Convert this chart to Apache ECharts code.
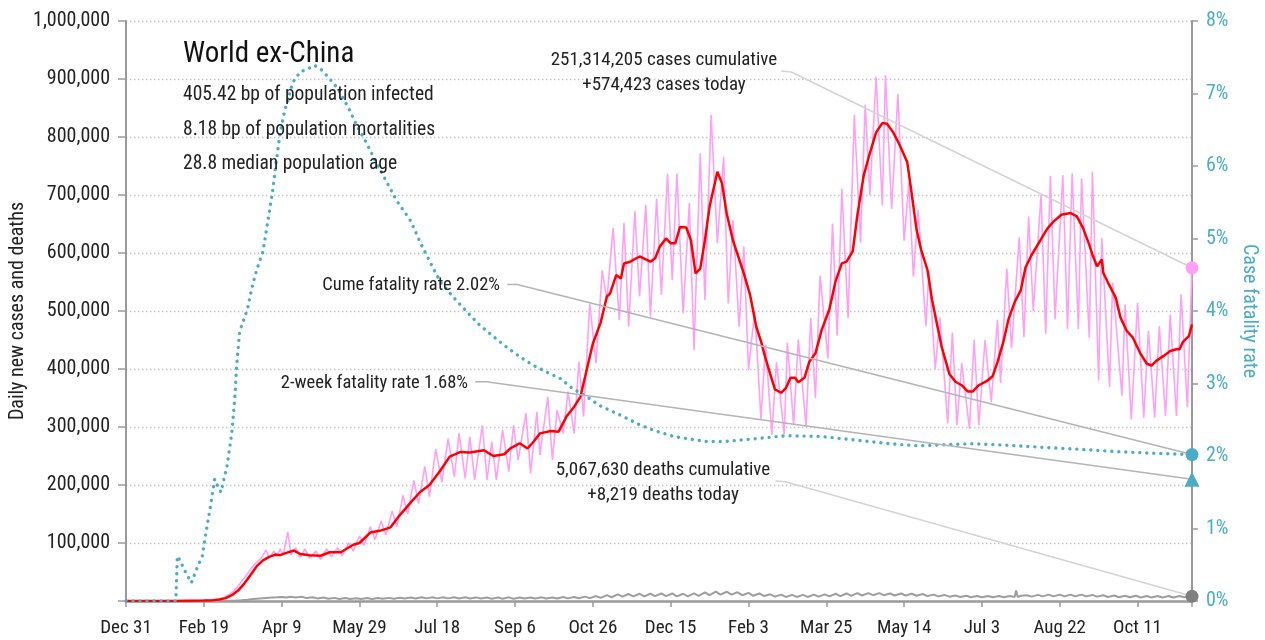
<!DOCTYPE html>
<html>
<head>
<meta charset="utf-8">
<title>World ex-China</title>
<script src="https://cdn.jsdelivr.net/npm/echarts@6/dist/echarts.min.js"></script>
<style>
  html, body { margin: 0; padding: 0; background: #fff; }
  #main { width: 1265px; height: 640px; }
</style>
</head>
<body>
<div id="main"></div>
<script>
// x values are days counted from Dec 31, 2019
var months = ['Jan', 'Feb', 'Mar', 'Apr', 'May', 'Jun', 'Jul', 'Aug', 'Sep', 'Oct', 'Nov', 'Dec'];
var lastDay = 685;
var tickDays = 50;

// daily new cases, thousands (weekly highs and lows)
var dailyCases = [
  [0,0],[20,0.1],[40,0.4],[50,1],[56,2],[60,3],[63,6],[66,11],[69,17],[72,26],[75,36],[78,47],[81,58],[84,67],[87,74],
  [90,88],[92,74],[95,86],[97,76],[99,90],[101,80],[104,119],[106,80],[109,92],[112,75],[115,90],[118,74],[122,86],[125,72],
  [129,90],[132,76],[136,92],[139,78],[143,100],[146,86],[150,112],[153,96],[157,128],[160,106],[164,138],[167,114],[171,155],
  [174,128],[178,182],[181,150],[185,208],[188,168],[192,232],[195,180],[199,262],[203,205],[207,280],[211,214],[214,289],
  [218,211],[221,283],[224,209],[229,303],[232,209],[235,275],[238,209],[242,295],[246,223],[249,303],[252,243],[257,324],
  [260,220],[264,326],[266,252],[271,352],[274,243],[277,329],[281,289],[284,361],[288,289],[291,413],[294,318],[298,513],
  [302,410],[306,570],[309,519],[313,643],[317,484],[320,652],[323,473],[327,672],[330,525],[334,683],[337,490],[341,694],
  [344,528],[348,737],[351,553],[354,737],[358,496],[362,686],[365,433],[369,772],[372,519],[376,838],[380,617],[384,766],
  [387,513],[390,657],[394,473],[397,611],[400,398],[404,500],[408,314],[411,442],[415,287],[418,412],[423,287],[425,445],
  [429,304],[432,451],[437,301],[440,488],[443,350],[446,561],[451,418],[454,651],[457,458],[460,711],[464,488],[468,838],
  [472,618],[475,856],[478,700],[482,904],[486,682],[488,907],[492,676],[496,874],[500,621],[503,720],[506,559],[509,674],
  [514,474],[516,570],[520,400],[523,489],[528,306],[531,463],[534,303],[537,410],[542,297],[545,451],[548,303],[552,450],
  [556,343],[560,485],[562,376],[566,573],[569,436],[574,627],[577,455],[580,663],[583,500],[588,700],[591,461],[594,733],
  [597,486],[602,734],[605,469],[608,737],[612,469],[614,729],[619,454],[621,740],[625,380],[627,626],[632,369],[634,549],
  [640,354],[642,511],[646,313],[650,514],[654,316],[657,466],[661,316],[664,474],[668,319],[671,494],[675,319],[678,529],
  [682,334],[685,574.423]
];

// 7-day average of new cases, thousands
var avgCases = [
  [0,0],[30,0.1],[50,0.8],[56,1.5],[60,2.5],[64,5],[68,10],[72,18],[76,30],[80,45],[84,60],[88,70],[92,76],[96,80],
  [99,79],[103,83],[108,87],[112,81],[118,79],[125,78],[131,84],[138,84],[146,97],[150,100],[157,118],[163,121],[170,127],
  [175,145],[183,170],[189,188],[195,200],[202,225],[208,249],[215,257],[221,256],[230,260],[236,250],[243,253],[247,263],
  [253,272],[258,263],[262,275],[266,289],[273,293],[278,292],[283,318],[288,335],[292,352],[296,398],[300,444],[305,480],
  [309,525],[311,530],[315,562],[318,556],[320,582],[324,585],[330,594],[337,585],[340,591],[343,611],[347,625],[350,617],
  [353,617],[356,645],[360,644],[363,622],[366,565],[369,573],[372,622],[375,680],[380,740],[383,720],[386,668],[390,622],
  [397,565],[401,528],[405,473],[408,448],[411,418],[414,391],[417,365],[421,359],[424,367],[427,385],[430,385],[432,377],
  [436,385],[439,412],[443,427],[447,467],[452,503],[456,552],[460,582],[463,585],[467,603],[470,666],[474,733],[477,763],
  [482,808],[486,824],[489,823],[493,808],[497,787],[502,757],[505,700],[508,640],[511,605],[515,571],[518,519],[521,479],
  [524,440],[529,392],[533,378],[537,372],[541,361],[544,361],[548,372],[553,379],[557,388],[560,412],[564,449],[567,485],
  [571,515],[575,536],[578,575],[582,597],[588,624],[592,642],[596,654],[601,666],[607,669],[611,663],[615,643],[619,614],
  [621,597],[624,577],[627,589],[628,566],[631,549],[636,523],[639,489],[643,466],[647,454],[652,426],[656,409],[659,406],
  [662,414],[667,423],[671,431],[675,434],[677,434],[679,446],[683,457],[685,477]
];

// daily new deaths, thousands
var dailyDeaths = [
  [0,0],[50,0.05],[60,0.1],[66,0.3],[70,0.6],[74,1.2],[78,2.2],[82,3.3],[86,4.3],[90,5.3],[94,6.0],[97,6.3],[100,6.8],
  [103,6.0],[106,7.5],[109,6.0],[113,7.2],[116,5.0],[120,6.5],[123,4.5],[127,6.0],[130,4.0],[134,5.4],[137,3.6],[141,5.0],
  [144,3.5],[148,4.9],[151,3.4],[155,5.0],[158,3.6],[162,5.2],[165,3.8],[169,5.4],[172,4.0],[176,5.6],[179,4.2],[183,6.2],
  [186,4.3],[190,6.3],[193,4.5],[197,6.6],[200,4.5],[204,6.5],[207,4.5],[211,6.5],[214,4.3],[218,6.4],[221,4.3],[225,6.2],
  [228,4.2],[232,6.0],[235,4.0],[239,6.2],[242,4.0],[246,6.3],[249,4.0],[253,6.0],[256,4.3],[260,6.0],[263,4.2],[267,6.3],
  [270,4.3],[274,6.2],[277,4.3],[281,6.8],[284,4.5],[288,7.0],[291,4.6],[295,7.5],[298,5.0],[302,8.5],[305,5.5],[309,10],
  [312,6.5],[316,11.5],[319,7.5],[323,12],[326,8],[330,12.5],[333,8],[337,12.5],[340,8.5],[344,13],[347,8.5],[351,13],
  [354,8],[358,12.5],[361,8],[365,13],[368,9],[372,15],[375,10],[379,16],[382,11],[386,16],[389,11],[393,15],[396,10],
  [400,14],[403,9],[407,13],[410,8.5],[414,11.5],[417,7.5],[421,11],[424,7],[428,10.5],[431,7],[435,10.5],[438,7],[442,11],
  [445,7.5],[449,11.5],[452,8],[456,12.5],[459,8.5],[463,13],[466,9],[470,13.5],[473,9.5],[477,13.5],[480,10],[484,13.5],
  [487,10],[491,13],[494,9.5],[498,13],[501,9.5],[505,12.5],[508,9],[512,12],[515,8.5],[519,11],[522,8],[526,10.5],[529,7.5],
  [533,9.5],[536,7],[540,9],[543,6.5],[547,8.5],[550,6.5],[554,8.5],[557,6.5],[561,8.5],[564,6.5],[568,8.5],[571,7],[572,18],
  [573,7],[575,9],[579,10],[582,7.5],[586,10.5],[589,8],[593,11],[596,8],[600,11],[603,8],[607,11],[610,8],[614,11],[617,8],
  [621,10.5],[624,7.5],[628,10],[631,7],[635,9.5],[638,6.5],[642,9],[645,6.5],[649,9],[652,6],[656,8.5],[659,6],[663,8.5],
  [666,6],[670,8.5],[673,6],[677,8.5],[680,6.5],[685,8.219]
];

// cumulative case fatality rate, percent
var cumeFatality = [
  [0,0],[32,0],[33,0.62],[35,0.55],[37,0.45],[39,0.37],[42,0.25],[45,0.42],[49,0.62],[52,1.02],[54,1.27],[57,1.68],
  [59,1.58],[61,1.5],[65,1.87],[68,2.32],[70,2.83],[71,3.22],[73,3.72],[78,4.02],[81,4.33],[84,4.57],[88,4.82],[91,5.22],
  [94,5.62],[96,5.97],[99,6.45],[102,6.77],[104,6.9],[107,7.15],[112,7.3],[116,7.33],[121,7.39],[126,7.32],[131,7.2],
  [136,7.07],[143,6.8],[148,6.57],[155,6.3],[161,6.04],[168,5.76],[174,5.52],[183,5.24],[189,4.95],[196,4.65],[202,4.4],
  [210,4.2],[219,3.99],[227,3.81],[236,3.65],[244,3.51],[253,3.37],[261,3.26],[270,3.16],[279,3.07],[287,2.93],[296,2.82],
  [304,2.7],[310,2.64],[320,2.54],[330,2.43],[341,2.34],[352,2.27],[363,2.23],[373,2.2],[384,2.2],[395,2.22],[405,2.24],
  [424,2.28],[446,2.27],[469,2.22],[491,2.17],[509,2.14],[520,2.15],[543,2.17],[565,2.15],[588,2.12],[606,2.1],[615,2.09],
  [637,2.06],[658,2.04],[685,2.02]
];

var twoWeekFatality = 1.68; // percent

var titleText = 'World ex-China';
var noteLines = ['405.42 bp of population infected', '8.18 bp of population mortalities', '28.8 median population age'];
var casesNote = ['251,314,205 cases cumulative', '+574,423 cases today'];
var deathsNote = ['5,067,630 deaths cumulative', '+8,219 deaths today'];
var cumeNote = 'Cume fatality rate 2.02%';
var twoWeekNote = '2-week fatality rate 1.68%';

var font = "'Liberation Sans Narrow', 'Roboto Condensed', 'DejaVu Sans Condensed', 'Arial Narrow', sans-serif";
var pink = '#ffa0f5';
var teal = '#4bacc6';

function scaled(list, k) {
  return list.map(function (p) { return [p[0], p[1] * k]; });
}
function last(list) { return list[list.length - 1]; }

var casesPts = scaled(dailyCases, 1000);
var avgPts = scaled(avgCases, 1000);
var deathPts = scaled(dailyDeaths, 1000);
var cfrPts = scaled(cumeFatality, 0.01);
var endCase = last(casesPts), endDeath = last(deathPts), endCfr = last(cfrPts);

function dayLabel(v) {
  if (v % tickDays !== 0) return '';
  var d = new Date(2019, 11, 31 + v);
  return months[d.getMonth()] + ' ' + d.getDate();
}

function leader(points, axis, color) {
  return {
    type: 'line', yAxisIndex: axis, data: points, silent: true, showSymbol: false,
    lineStyle: { color: color, width: 1.6 }, z: 6, animation: false
  };
}

function txt(x, y, s, size, align, color) {
  return {
    type: 'text', x: x, y: y, z: 20,
    style: { text: s, fontSize: size, fontFamily: font, fill: color || '#111', align: align, verticalAlign: 'middle' }
  };
}

var myChart = echarts.init(document.getElementById('main'));

var option = {
  animation: false,
  textStyle: { fontFamily: font },
  grid: { left: 126, right: 73, top: 21, bottom: 39, containLabel: false, outerBoundsMode: 'none' },
  xAxis: {
    type: 'value', min: 0, max: lastDay, interval: tickDays,
    splitLine: { show: false },
    axisLine: { lineStyle: { color: '#9a9a9a', width: 2.5 } },
    axisTick: { show: true, length: 6, lineStyle: { color: '#9a9a9a', width: 1.5 } },
    axisLabel: { formatter: dayLabel, fontSize: 19, color: '#222', margin: 18, fontFamily: font }
  },
  yAxis: [{
    type: 'value', min: 0, max: 1000000, interval: 100000,
    name: 'Daily new cases and deaths', nameLocation: 'middle', nameRotate: 90, nameGap: 98,
    nameMoveOverlap: false,
    nameTextStyle: { fontSize: 20, color: '#222', fontFamily: font },
    axisLine: { show: true, lineStyle: { color: '#9a9a9a', width: 2 } },
    axisTick: { show: true, length: 8, lineStyle: { color: '#9a9a9a', width: 1.5 } },
    axisLabel: {
      fontSize: 20, color: '#222', margin: 16, fontFamily: font,
      formatter: function (v) { return v === 0 ? '' : v.toLocaleString('en-US'); }
    },
    splitLine: { lineStyle: { color: '#c4c4c4', type: [1.4, 2.6], width: 1.4 } }
  }, {
    type: 'value', min: 0, max: 0.08, interval: 0.01, position: 'right',
    name: 'Case fatality rate', nameLocation: 'middle', nameRotate: -90, nameGap: 47,
    nameMoveOverlap: false,
    nameTextStyle: { fontSize: 20, color: teal, fontFamily: font },
    axisLine: { show: true, lineStyle: { color: '#9a9a9a', width: 2 } },
    axisTick: { show: true, length: 6, lineStyle: { color: '#9a9a9a', width: 1.5 } },
    axisLabel: {
      fontSize: 20, color: teal, margin: 14, fontFamily: font,
      formatter: function (v) { return Math.round(v * 100) + '%'; }
    },
    splitLine: { show: false }
  }],
  series: [
    {
      name: 'Daily deaths', type: 'line', data: deathPts, showSymbol: false, z: 2,
      lineStyle: { color: '#9e9e9e', width: 2 }
    },
    {
      name: 'Daily cases', type: 'line', data: casesPts, showSymbol: false, z: 3,
      lineStyle: { color: pink, width: 1.6 }
    },
    {
      name: '7-day average', type: 'line', data: avgPts, showSymbol: false, z: 4,
      lineStyle: { color: '#ff0000', width: 2.5 }
    },
    {
      name: 'Case fatality rate', type: 'line', yAxisIndex: 1, data: cfrPts, showSymbol: false, z: 5,
      lineStyle: { color: teal, width: 3.4, type: [0.01, 7], cap: 'round' }
    },
    leader([[421, 913800], [427.5, 912000], endCase], 0, '#d4d4d4'),
    leader([[417.3, 206900], [423.7, 205500], endDeath], 0, '#d4d4d4'),
    leader([[245, 0.04366], [251.4, 0.04366], endCfr], 1, '#b4b4b4'),
    leader([[224.4, 0.03025], [231.5, 0.03025], [lastDay, twoWeekFatality / 100]], 1, '#b4b4b4'),
    {
      type: 'scatter', data: [endCase], symbolSize: 13, itemStyle: { color: pink, opacity: 1 }, z: 10, clip: false, silent: true
    },
    {
      type: 'scatter', data: [endDeath], symbolSize: 13, itemStyle: { color: '#7f7f7f', opacity: 1 }, z: 10, clip: false, silent: true
    },
    {
      type: 'scatter', yAxisIndex: 1, data: [endCfr], symbolSize: 13, itemStyle: { color: teal, opacity: 1 }, z: 10, clip: false, silent: true
    },
    {
      type: 'scatter', yAxisIndex: 1, data: [[lastDay, twoWeekFatality / 100]], symbol: 'triangle', symbolSize: 15,
      itemStyle: { color: teal, opacity: 1 }, z: 10, clip: false, silent: true
    }
  ],
  graphic: [
    txt(183, 55, titleText, 29, 'left'),
    txt(183, 95, noteLines[0], 19.5, 'left', '#222'),
    txt(183, 130, noteLines[1], 19.5, 'left', '#222'),
    txt(183, 164, noteLines[2], 19.5, 'left', '#222'),
    txt(664, 60, casesNote[0], 19, 'center', '#222'),
    txt(664, 85, casesNote[1], 19, 'center', '#222'),
    txt(500, 285, cumeNote, 18.5, 'right', '#222'),
    txt(468, 383, twoWeekNote, 18.5, 'right', '#222'),
    txt(663, 470, deathsNote[0], 19, 'center', '#222'),
    txt(663, 495, deathsNote[1], 19, 'center', '#222')
  ]
};

myChart.setOption(option);
</script>
</body>
</html>
